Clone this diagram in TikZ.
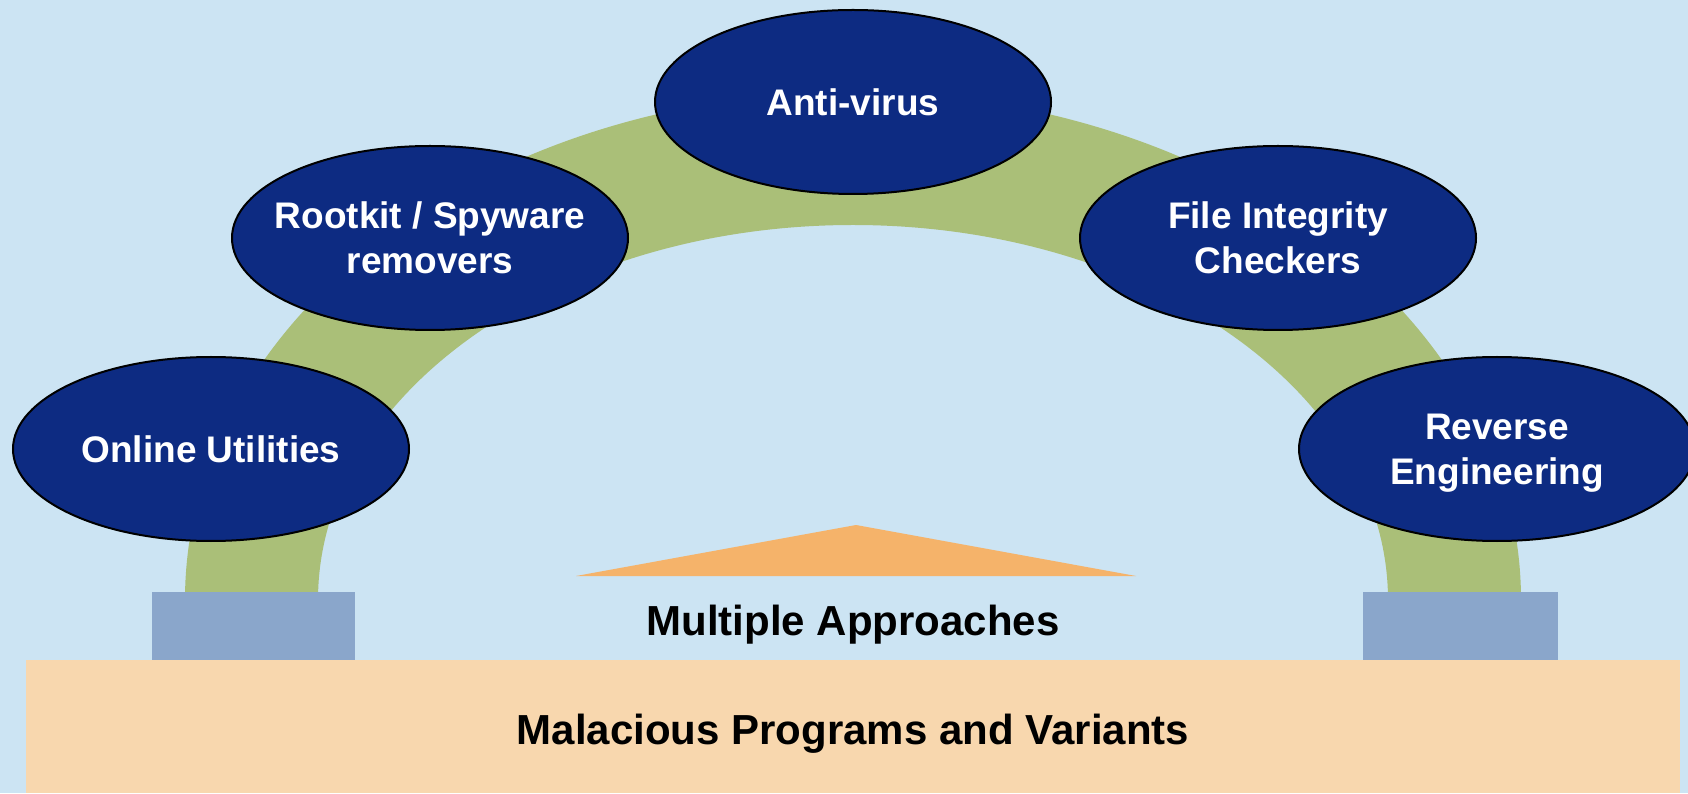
\documentclass[tikz,border=0pt]{standalone}
\usepackage{fontspec}
\setmainfont{Liberation Sans}
\usetikzlibrary{shapes.geometric}
\definecolor{bgblue}{RGB}{204,228,243}
\definecolor{archgreen}{RGB}{170,191,120}
\definecolor{navyfill}{RGB}{13,43,130}
\definecolor{pedblue}{RGB}{138,166,203}
\definecolor{peachfill}{RGB}{248,215,174}
\definecolor{triorange}{RGB}{245,179,106}
\begin{document}
\begin{tikzpicture}[x=1pt,y=1pt,
  bubble/.style={ellipse, draw=black, line width=2pt, fill=navyfill,
    minimum width=396pt, minimum height=184pt, inner sep=0pt},
  bubtext/.style={text=white, font=\bfseries\fontsize{37}{45}\selectfont,
    align=center, text depth=0pt, inner sep=0pt},
  basetext/.style={text=black, font=\bfseries\fontsize{42}{50}\selectfont,
    inner sep=0pt, anchor=base},
  pedestal/.style={fill=pedblue},
  baseslab/.style={fill=peachfill}]
\useasboundingbox (0,0) rectangle (1688,793);
\fill[bgblue] (0,0) rectangle (1688,793);
% arch
\fill[archgreen] (185,193) arc[start angle=180, end angle=0, x radius=668pt, y radius=508pt]
  -- (1388,193) arc[start angle=0, end angle=180, x radius=535pt, y radius=375pt] -- cycle;
% pedestals
\fill[pedestal] (152,133) rectangle (355,201);
\fill[pedestal] (1363,133) rectangle (1558,201);
% base slab
\fill[baseslab] (26,0) rectangle (1680,133);
% triangle
\fill[triorange] (576,217) -- (856,268) -- (1136,217) -- cycle;
% ellipses
\node[bubble] (ou) at (211,344) {};
\node[bubtext] (out) at (ou.center) {Online Utilities};
\node[bubble] (rk) at (430,555) {};
\node[bubtext] (rkt) at (rk.center) {Rootkit / Spyware\\removers};
\node[bubble] (av) at (853,691) {};
\node[bubtext] (avt) at (av.center) {Anti-virus};
\node[bubble] (fi) at (1278,555) {};
\node[bubtext] (fit) at (fi.center) {File Integrity\\Checkers};
\node[bubble] (re) at (1497,344) {};
\node[bubtext] (ret) at (re.center) {Reverse\\Engineering};
% labels
\node[basetext] (multi) at (853,158) {Multiple Approaches};
\node[basetext] (mal) at (853,49) {Malacious Programs and Variants};
\end{tikzpicture}
\end{document}
